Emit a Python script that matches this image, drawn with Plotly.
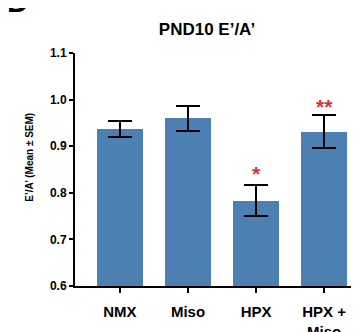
import plotly.graph_objects as go

categories = ["NMX", "Miso", "HPX", "HPX +<br>Miso"]
means = [0.937, 0.960, 0.783, 0.931]
sems = [0.018, 0.027, 0.033, 0.035]
sig_labels = ["", "", "*", "**"]
sig_y = [None, None, 0.842, 0.986]
y_ticks = [0.6, 0.7, 0.8, 0.9, 1.0, 1.1]

FONT = "Arial, Liberation Sans, sans-serif"
BAR = "#4d80b2"
RED = "#d93040"

x = list(range(len(categories)))
fig = go.Figure()
fig.add_trace(go.Bar(
    x=x, y=means, width=0.676, marker=dict(color=BAR, line=dict(width=0)),
    error_y=dict(type="data", array=sems, visible=True, color="black",
                 thickness=2, width=12),
))

for xi, lab, sy in zip(x, sig_labels, sig_y):
    if lab:
        fig.add_annotation(x=xi, y=sy, text="<b>" + lab + "</b>", showarrow=False,
                           yanchor="middle",
                           font=dict(family=FONT, size=21, color=RED))

fig.add_annotation(xref="paper", yref="paper", x=-0.24, y=1.0, yshift=33,
                   text="<b>D</b>", showarrow=False, xanchor="left", yanchor="bottom",
                   font=dict(family=FONT, size=30, color="black"))

# y-axis title placed as rotated annotation (centred as in the reference)
fig.add_annotation(xref="paper", yref="paper", x=-0.154, y=0.551,
                   text="<b>E’/A’ (Mean ± SEM)</b>", textangle=-90, showarrow=False,
                   xanchor="center", yanchor="middle",
                   font=dict(family=FONT, size=10, color="black"))

fig.update_layout(
    width=359, height=332,
    margin=dict(l=67, r=0, t=45, b=42),
    paper_bgcolor="white", plot_bgcolor="white",
    showlegend=False,
    bargap=0,
    title=dict(text="<b>PND10 E’/A’</b>", x=199 / 359, xanchor="center",
               y=1 - 21 / 332, yanchor="middle",
               font=dict(family=FONT, size=17, color="black")),
    font=dict(family=FONT, color="black"),
)
fig.update_xaxes(
    range=[-0.66, 3.63], tickmode="array", tickvals=x,
    ticktext=["<b>" + c + "</b>" for c in categories],
    showline=True, linecolor="black", linewidth=2,
    ticks="outside", ticklen=5, tickwidth=2, tickcolor="black",
    ticklabelstandoff=6,
    tickfont=dict(family=FONT, size=15, color="black"),
    showgrid=False, zeroline=False, fixedrange=True,
)
fig.update_yaxes(
    range=[0.6, 1.1], tickmode="array", tickvals=y_ticks,
    ticktext=["<b>%.1f</b>" % v for v in y_ticks],
    showline=True, linecolor="black", linewidth=2,
    ticks="outside", ticklen=4, tickwidth=2, tickcolor="black",
    tickfont=dict(family=FONT, size=12, color="black"),
    showgrid=False, zeroline=False,
)

fig.write_html("out.html")
